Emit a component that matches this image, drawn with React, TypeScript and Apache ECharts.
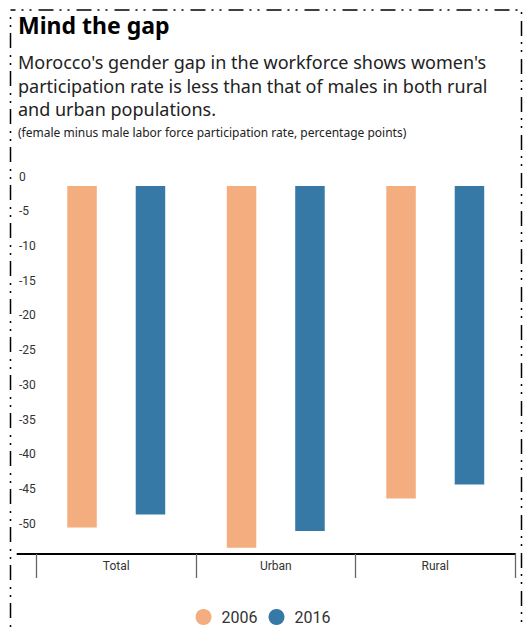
import React, { useEffect, useRef } from "react";
import * as echarts from "echarts";

const categories = ["Total", "Urban", "Rural"];
const seriesNames = ["2006", "2016"];
const values2006 = [-49.2, -52.1, -45.0];
const values2016 = [-47.3, -49.7, -43.0];
const yTickValues = [0, -5, -10, -15, -20, -25, -30, -35, -40, -45, -50];
const yMin = -53;
const yMax = 0;

const titleText = "Mind the gap";
const subtitleLines = [
  "Morocco's gender gap in the workforce shows women's",
  "participation rate is less than that of males in both rural",
  "and urban populations.",
];
const noteText = "(female minus male labor force participation rate, percentage points)";

const colors = ["#F3AD7E", "#3779A6"];

export default function App() {
  const ref = useRef<HTMLDivElement>(null);

  useEffect(() => {
    if (!ref.current) return;
    const chart = echarts.init(ref.current, null, { renderer: "svg" });
    const option: any = {
      animation: false,
      backgroundColor: "#ffffff",
      grid: { left: 36.5, right: 11, top: 186, bottom: 74, containLabel: false },
      xAxis: {
        type: "category",
        data: categories,
        axisLine: { show: true, onZero: false, lineStyle: { color: "#000", width: 2 } },
        axisTick: { show: true, length: 24, lineStyle: { color: "#666", width: 1.3 } },
        axisLabel: { margin: 6, fontFamily: "Roboto", fontSize: 12, color: "#333" },
        splitLine: { show: false },
      },
      yAxis: {
        type: "value",
        min: yMin,
        max: yMax,
        axisLine: { show: false },
        axisTick: { show: false },
        splitLine: { show: false },
        axisLabel: {
          customValues: yTickValues,
          align: "left",
          verticalAlign: "bottom",
          lineHeight: 19,
          margin: 17.5,
          fontFamily: "Roboto",
          fontSize: 12,
          color: "#333",
        },
      },
      legend: {
        data: seriesNames,
        icon: "circle",
        itemWidth: 16,
        itemHeight: 16,
        itemGap: 11,
        left: "center",
        top: 604,
        textStyle: { fontFamily: "Roboto", fontSize: 16, color: "#333", padding: [0, 0, 0, 5] },
      },
      series: [
        {
          name: seriesNames[0],
          type: "bar",
          data: values2006,
          barWidth: 29.5,
          barGap: "132%",
          itemStyle: { color: colors[0] },
        },
        {
          name: seriesNames[1],
          type: "bar",
          data: values2016,
          barWidth: 29.5,
          barGap: "132%",
          itemStyle: { color: colors[1] },
        },
      ],
      graphic: [
        {
          type: "rect",
          silent: true,
          shape: { x: 10.5, y: 10, width: 511, height: 700 },
          style: {
            fill: "none",
            stroke: "#000",
            lineWidth: 1.5,
            lineDash: [15, 6, 2, 6, 2, 7],
            lineDashOffset: 10,
          },
        },
        {
          type: "line",
          silent: true,
          shape: { x1: 16.7, y1: 554, x2: 37, y2: 554 },
          style: { stroke: "#000", lineWidth: 2 },
        },
        {
          type: "text",
          silent: true,
          x: 18,
          y: 25,
          style: {
            text: titleText,
            font: "bold 23px 'Noto Sans'",
            fill: "#000",
            align: "left",
            verticalAlign: "middle",
          },
        },
        {
          type: "text",
          silent: true,
          x: 18,
          y: 50.5,
          style: {
            text: subtitleLines.join("\n"),
            font: "18px 'Noto Sans'",
            lineHeight: 23.4,
            fill: "#222",
            align: "left",
            verticalAlign: "top",
          },
        },
        {
          type: "text",
          silent: true,
          x: 18,
          y: 132.5,
          style: {
            text: noteText,
            font: "12px 'Noto Sans'",
            fill: "#222",
            align: "left",
            verticalAlign: "middle",
          },
        },
      ],
    };
    chart.setOption(option);
    return () => chart.dispose();
  }, []);

  return (
    <div
      ref={ref}
      style={{ position: "absolute", left: 0, top: 0, width: 526, height: 628 }}
    />
  );
}
